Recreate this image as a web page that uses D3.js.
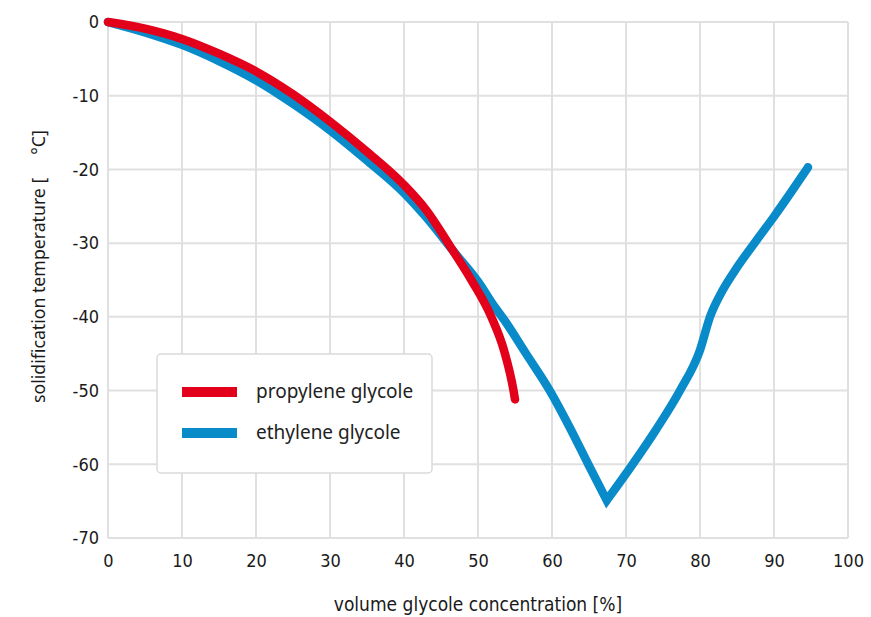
<!DOCTYPE html>
<html>
<head>
<meta charset="utf-8">
<script src="https://cdn.jsdelivr.net/npm/d3@7"></script>
<style>
  body { margin: 0; background: #fff; }
  #chart { width: 871px; height: 617px; }
</style>
</head>
<body>
<div id="chart"></div>
<script>
// values
var propConc = [0, 5, 10, 15, 20, 25, 30, 35, 40, 43, 46.6, 49.1, 51.8, 53.5, 54.8, 55];
var propTemp = [0, -0.9, -2.3, -4.3, -6.7, -9.8, -13.5, -17.6, -22.1, -25.5, -31, -35, -40, -44.5, -50, -51.2];

// ethylene glycole, falling arm down to the eutectic point
var ethConcDown = [0, 5, 10, 15, 20, 25, 30, 35, 40, 43, 46.6, 50, 52.3, 53.6, 56.5, 59.7, 62.4, 64.9, 67.4];
var ethTempDown = [0, -1.4, -3.1, -5.3, -7.9, -11.1, -14.7, -18.8, -23.2, -26.5, -31, -35.2, -38.7, -40.5, -45, -50, -55, -60, -64.9];

// ethylene glycole, rising arm
var ethConcUp = [67.4, 70.9, 74, 77.3, 80, 81.35, 83, 85, 87.5, 90, 92.3, 94.6];
var ethTempUp = [-64.9, -60, -55.4, -50, -44.5, -40, -36.5, -33.3, -29.8, -26.4, -23.1, -19.7];

var xTicks = [0, 10, 20, 30, 40, 50, 60, 70, 80, 90, 100];
var yTicks = [0, -10, -20, -30, -40, -50, -60, -70];

var seriesNames = ["propylene glycole", "ethylene glycole"];
var seriesColors = ["#e3001b", "#0a8bc9"];

var margin = {top: 22, right: 23, bottom: 79, left: 108},
    width = 871 - margin.left - margin.right,
    height = 617 - margin.top - margin.bottom;

var tickFont = "'DejaVu Sans Condensed', 'Liberation Sans Narrow', sans-serif";
var textFont = "'Noto Sans', 'Open Sans', sans-serif";

var svg = d3.select("#chart")
    .append("svg")
        .attr("width", 871)
        .attr("height", 617)
    .append("g")
        .attr("transform", "translate(" + margin.left + "," + margin.top + ")");

var x = d3.scaleLinear().domain([0, 100]).range([0, width]);
var y = d3.scaleLinear().domain([-70, 0]).range([height, 0]);

// grid
svg.append("g")
    .selectAll("line")
    .data(xTicks)
    .enter()
    .append("line")
        .attr("x1", function(d) { return x(d); })
        .attr("x2", function(d) { return x(d); })
        .attr("y1", 0)
        .attr("y2", height)
        .style("stroke", "#e0e0e0")
        .style("stroke-width", 2);

svg.append("g")
    .selectAll("line")
    .data(yTicks)
    .enter()
    .append("line")
        .attr("x1", 0)
        .attr("x2", width)
        .attr("y1", function(d) { return y(d); })
        .attr("y2", function(d) { return y(d); })
        .style("stroke", "#e0e0e0")
        .style("stroke-width", 2);

// axes, labels only (plain hyphen as minus)
svg.append("g")
    .attr("transform", "translate(0," + height + ")")
    .call(d3.axisBottom(x).tickValues(xTicks).tickSize(0).tickPadding(16)
        .tickFormat(function(d) { return String(d); }))
    .call(function(g) { g.select(".domain").remove(); })
    .selectAll("text")
        .style("font-family", tickFont)
        .style("font-size", "18px")
        .style("fill", "#1a1a1a");

svg.append("g")
    .call(d3.axisLeft(y).tickValues(yTicks).tickSize(0).tickPadding(9)
        .tickFormat(function(d) { return String(d); }))
    .call(function(g) { g.select(".domain").remove(); })
    .selectAll("text")
        .style("font-family", tickFont)
        .style("font-size", "18px")
        .style("fill", "#1a1a1a");

// axis titles
svg.append("text")
    .attr("x", x(50))
    .attr("y", height + 73)
    .attr("text-anchor", "middle")
    .style("font-family", tickFont)
    .style("font-size", "19px")
    .style("fill", "#1a1a1a")
    .text("volume glycole concentration [%]");

svg.append("text")
    .attr("transform", "translate(-63," + (403 - margin.top) + ") rotate(-90)")
    .attr("text-anchor", "start")
    .style("font-family", textFont)
    .style("font-size", "17.7px")
    .style("fill", "#1a1a1a")
    .style("white-space", "pre")
    .text("solidification temperature [     \u00B0C]");

// curves
var line = d3.line()
    .x(function(d) { return x(d[0]); })
    .y(function(d) { return y(d[1]); })
    .curve(d3.curveMonotoneX);

var propData = propConc.map(function(c, i) { return [c, propTemp[i]]; });
var ethDown = ethConcDown.map(function(c, i) { return [c, ethTempDown[i]]; });
var ethUp = ethConcUp.map(function(c, i) { return [c, ethTempUp[i]]; });

// one path, sharp corner at the eutectic point
var ethPath = line(ethDown) + line(ethUp).replace(/^M/, "L");

svg.append("path")
    .attr("d", ethPath)
    .style("fill", "none")
    .style("stroke", seriesColors[1])
    .style("stroke-width", 8.5)
    .style("stroke-linecap", "round")
    .style("stroke-linejoin", "miter");

svg.append("path")
    .datum(propData)
    .attr("d", line)
    .style("fill", "none")
    .style("stroke", seriesColors[0])
    .style("stroke-width", 8.5)
    .style("stroke-linecap", "round")
    .style("stroke-linejoin", "round");

// legend
var legend = svg.append("g")
    .attr("transform", "translate(" + (157 - margin.left) + "," + (354 - margin.top) + ")");

legend.append("rect")
    .attr("width", 275)
    .attr("height", 119)
    .attr("rx", 4)
    .attr("ry", 4)
    .style("fill", "#fff")
    .style("stroke", "#dadada")
    .style("stroke-width", 1.5);

seriesNames.forEach(function(name, i) {
    var ly = 38 + i * 41;
    legend.append("line")
        .attr("x1", 25)
        .attr("x2", 80)
        .attr("y1", ly)
        .attr("y2", ly)
        .style("stroke", seriesColors[i])
        .style("stroke-width", 10);
    legend.append("text")
        .attr("x", 99)
        .attr("y", ly + 6)
        .style("font-family", textFont)
        .style("font-size", "19px")
        .style("fill", "#222")
        .text(name);
});
</script>
</body>
</html>
